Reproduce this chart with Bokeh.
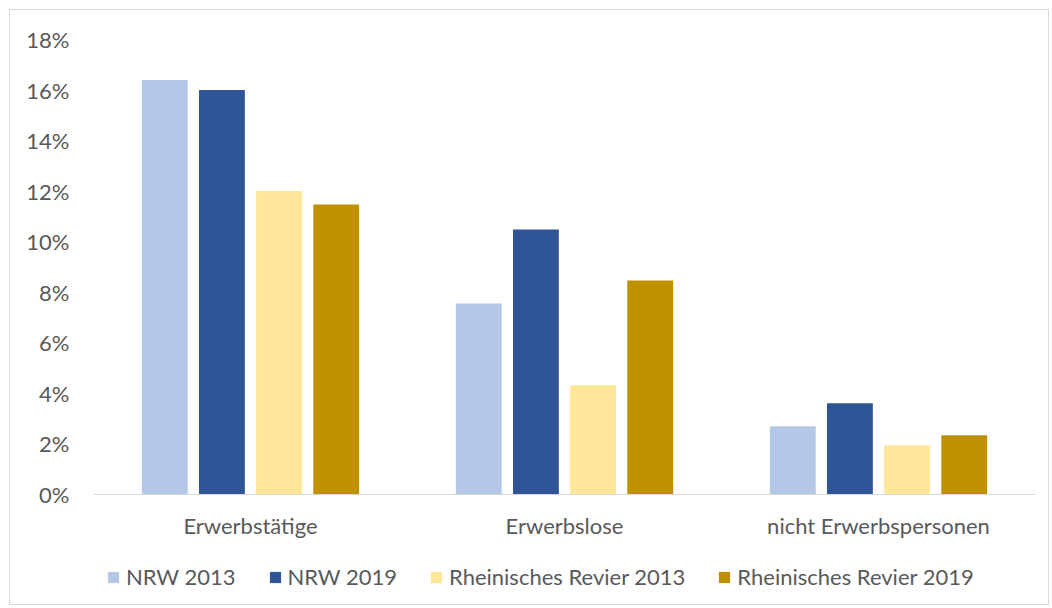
from bokeh.plotting import figure
from bokeh.models import (ColumnDataSource, FactorRange, Range1d, FixedTicker,
                          NumeralTickFormatter, Legend, LegendItem)
from bokeh.transform import dodge
from bokeh.embed import file_html
from bokeh.resources import INLINE

categories = ["Erwerbstätige", "Erwerbslose", "nicht Erwerbspersonen"]
series_names = ["NRW 2013", "NRW 2019", "Rheinisches Revier 2013", "Rheinisches Revier 2019"]
nrw_2013 = [0.164, 0.0755, 0.0269]
nrw_2019 = [0.160, 0.1048, 0.0360]
rr_2013 = [0.120, 0.0431, 0.0194]
rr_2019 = [0.1147, 0.0846, 0.0233]
y_ticks = [0, 0.02, 0.04, 0.06, 0.08, 0.10, 0.12, 0.14, 0.16, 0.18]

colors = ["#b4c7e7", "#2f5597", "#ffe699", "#bf9000"]
offsets = [-0.273, -0.091, 0.091, 0.273]
FONT = "Lato"
TXT = "#595959"
FS = "22px"

source = ColumnDataSource(dict(cat=categories, s0=nrw_2013, s1=nrw_2019, s2=rr_2013, s3=rr_2019))

# frame extends below zero so that the legend can sit inside it
p = figure(x_range=FactorRange(*categories), y_range=Range1d(-0.0425, 0.1808),
           width=1040, height=596, output_backend="svg", toolbar_location=None,
           min_border_left=83, min_border_top=27, min_border_right=15, min_border_bottom=5)
p.styles = {"border": "1px solid #d9d9d9", "margin-left": "9px", "margin-top": "9px"}
p.outline_line_color = None
p.xgrid.grid_line_color = None
p.ygrid.grid_line_color = None

renderers = []
for i, col in enumerate(["s0", "s1", "s2", "s3"]):
    r = p.vbar(x=dodge("cat", offsets[i], range=p.x_range), top=col, width=0.146,
               source=source, color=colors[i], line_color=None)
    renderers.append(r)

p.yaxis.ticker = FixedTicker(ticks=y_ticks)
p.yaxis.formatter = NumeralTickFormatter(format="0%")
p.yaxis.axis_line_color = None
p.yaxis.major_tick_line_color = None
p.yaxis.major_tick_out = 0
p.yaxis.minor_tick_line_color = None
p.yaxis.minor_tick_out = 0
p.yaxis.major_label_standoff = 24
p.yaxis.major_label_text_font = FONT
p.yaxis.major_label_text_font_size = FS
p.yaxis.major_label_text_color = TXT

p.xaxis.fixed_location = 0
p.xaxis.axis_line_color = "#d9d9d9"
p.xaxis.axis_line_width = 1
p.xaxis.major_tick_line_color = None
p.xaxis.major_tick_out = 0
p.xaxis.minor_tick_line_color = None
p.xaxis.minor_tick_out = 0
p.xaxis.major_label_standoff = 18
p.xaxis.major_label_text_font = FONT
p.xaxis.major_label_text_font_size = FS
p.xaxis.major_label_text_color = TXT

legend = Legend(items=[LegendItem(label=series_names[i], renderers=[r]) for i, r in enumerate(renderers)],
                location=(13, 11), orientation="horizontal",
                glyph_width=14, glyph_height=14, label_standoff=6, spacing=32,
                label_text_font=FONT, label_text_font_size=FS, label_text_color=TXT,
                border_line_color=None, background_fill_alpha=0, padding=0, margin=0)
p.add_layout(legend, "center")

open("out.html", "w").write(file_html(p, INLINE))
